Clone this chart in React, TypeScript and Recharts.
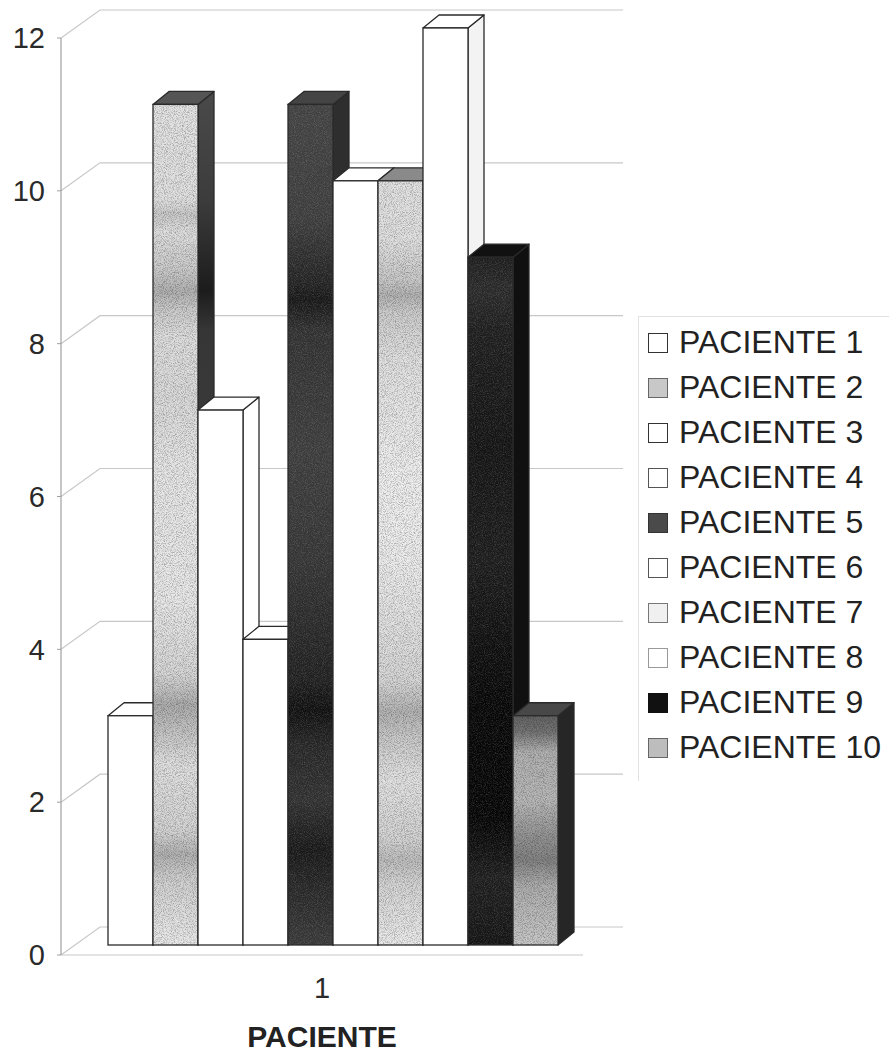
import React from 'react';
import { BarChart, Bar, XAxis, YAxis, CartesianGrid, Legend, Label } from 'recharts';

const categories = ['1'];
const seriesNames = [
  'PACIENTE 1', 'PACIENTE 2', 'PACIENTE 3', 'PACIENTE 4', 'PACIENTE 5',
  'PACIENTE 6', 'PACIENTE 7', 'PACIENTE 8', 'PACIENTE 9', 'PACIENTE 10',
];
const seriesValues = [3, 11, 7, 4, 11, 10, 10, 12, 9, 3];
const yTicks = [0, 2, 4, 6, 8, 10, 12];
const xTitle = 'PACIENTE';

const W = 889;
const H = 1054;
const FONT = '"Liberation Sans", Arial, Helvetica, sans-serif';

// depth offsets for the pseudo-3D look
const BAR_DX = 11;
const BAR_DY = -10;
const DEPTH_X = 16;
const DEPTH_Y = -13;
const WALL_X = 39;
const WALL_Y = -28;
const LEGEND_W = 251;

type Faces = { front: string; side: string; top: string; grain?: string };
const faces: Faces[] = [
  { front: '#ffffff', side: '#ffffff', top: '#ffffff' },
  { front: 'url(#gLight)', side: 'url(#gSideDark)', top: '#555555', grain: 'url(#grainDark)' },
  { front: '#ffffff', side: '#ffffff', top: '#ffffff' },
  { front: '#ffffff', side: '#ffffff', top: '#ffffff' },
  { front: 'url(#gDark)', side: '#2e2e2e', top: '#444444', grain: 'url(#grainLight)' },
  { front: '#ffffff', side: '#ffffff', top: '#ffffff' },
  { front: 'url(#gLight2)', side: '#555555', top: '#8a8a8a', grain: 'url(#grainDark)' },
  { front: '#ffffff', side: '#f3f3f3', top: '#ffffff' },
  { front: 'url(#gBlack)', side: '#101010', top: '#111111', grain: 'url(#grainLight)' },
  { front: 'url(#gMid)', side: '#262626', top: '#484848', grain: 'url(#grainDark)' },
];
const markerFills = ['#ffffff', '#c8c8c8', '#ffffff', '#ffffff', '#4a4a4a', '#ffffff', '#f0f0f0', '#ffffff', '#111111', '#bdbdbd'];
const markerStrokes = ['#333', '#666', '#333', '#555', '#333', '#555', '#777', '#999', '#111', '#666'];

const gradLight: [number, string][] = [
  [90, '#e4e4e4'], [200, '#e0e0e0'], [214, '#c8c8c8'], [232, '#dedede'], [270, '#cacaca'],
  [292, '#b0b0b0'], [308, '#c8c8c8'], [335, '#dedede'], [400, '#dadada'], [470, '#e6e6e6'],
  [600, '#e8e8e8'], [675, '#d6d6d6'], [705, '#acacac'], [735, '#c6c6c6'], [765, '#e0e0e0'],
  [830, '#d4d4d4'], [855, '#b2b2b2'], [878, '#cecece'], [945, '#eaeaea'],
];
const gradLight2: [number, string][] = [
  [160, '#e2e2e2'], [240, '#e0e0e0'], [280, '#c8c8c8'], [296, '#b2b2b2'], [312, '#cccccc'],
  [360, '#e0e0e0'], [470, '#eeeeee'], [560, '#ececec'], [680, '#d6d6d6'], [712, '#b2b2b2'],
  [740, '#cacaca'], [780, '#e2e2e2'], [840, '#d2d2d2'], [860, '#bdbdbd'], [885, '#d4d4d4'],
  [945, '#eaeaea'],
];
const gradSideDark: [number, string][] = [
  [90, '#4a4a4a'], [200, '#3c3c3c'], [290, '#1c1c1c'], [330, '#363636'], [450, '#3a3a3a'],
  [600, '#444444'], [700, '#2a2a2a'], [945, '#3a3a3a'],
];
const gradDark: [number, string][] = [
  [90, '#424242'], [220, '#3c3c3c'], [280, '#242424'], [300, '#181818'], [330, '#303030'],
  [450, '#3c3c3c'], [560, '#343434'], [680, '#202020'], [710, '#101010'], [745, '#262626'],
  [800, '#303030'], [850, '#181818'], [880, '#242424'], [945, '#383838'],
];
const gradBlack: [number, string][] = [
  [240, '#161616'], [290, '#2a2a2a'], [330, '#1e1e1e'], [450, '#141414'], [560, '#1c1c1c'],
  [700, '#080808'], [820, '#060606'], [880, '#1e1e1e'], [945, '#141414'],
];
const gradMid: [number, string][] = [
  [715, '#626262'], [732, '#747474'], [752, '#b0b0b0'], [800, '#b8b8b8'], [835, '#949494'],
  [860, '#828282'], [885, '#acacac'], [945, '#c8c8c8'],
];

const Grad = ({ id, stops }: { id: string; stops: [number, string][] }) => (
  <linearGradient id={id} gradientUnits="userSpaceOnUse" x1={0} y1={0} x2={0} y2={H}>
    {stops.map(([yy, c], i) => (
      <stop key={i} offset={yy / H} stopColor={c} />
    ))}
  </linearGradient>
);

const Grain = ({ id, color, strength }: { id: string; color: number; strength: number }) => (
  <filter id={id} x="0" y="0" width="1" height="1" colorInterpolationFilters="sRGB">
    <feTurbulence type="fractalNoise" baseFrequency="1.1" numOctaves={2} seed={5} result="n" />
    <feColorMatrix
      in="n"
      type="matrix"
      values={`0 0 0 0 ${color}  0 0 0 0 ${color}  0 0 0 0 ${color}  ${2.4 * strength} 0 0 0 ${-1.0 * strength}`}
      result="dots"
    />
    <feComposite in="dots" in2="SourceGraphic" operator="in" result="clip" />
    <feMerge>
      <feMergeNode in="SourceGraphic" />
      <feMergeNode in="clip" />
    </feMerge>
  </filter>
);

const makeShape = (f: Faces) => (props: any) => {
  const { x, y, width, height } = props;
  if (x == null || y == null || !width || height == null) return <g />;
  const fx = x + BAR_DX;
  const fy = y + BAR_DY;
  const stroke = '#2a2a2a';
  const sw = 1.3;
  const top = `M${fx},${fy} L${fx + DEPTH_X},${fy + DEPTH_Y} L${fx + width + DEPTH_X},${fy + DEPTH_Y} L${fx + width},${fy} Z`;
  const side = `M${fx + width},${fy} L${fx + width + DEPTH_X},${fy + DEPTH_Y} L${fx + width + DEPTH_X},${fy + height + DEPTH_Y} L${fx + width},${fy + height} Z`;
  return (
    <g>
      <path d={side} fill={f.side} stroke={stroke} strokeWidth={sw} strokeLinejoin="round" />
      <path d={top} fill={f.top} stroke={stroke} strokeWidth={sw} strokeLinejoin="round" />
      <rect x={fx} y={fy} width={width} height={height} fill={f.front} filter={f.grain} />
      <rect x={fx} y={fy} width={width} height={height} fill="none" stroke={stroke} strokeWidth={sw} />
    </g>
  );
};

const gridLine = (p: any) => {
  const { x1, y1, x2 } = p;
  const d = `M${x1},${y1} L${x1 + WALL_X},${y1 + WALL_Y} L${x2 + WALL_X + 1},${y1 + WALL_Y}`;
  return <path key={`g-${y1}`} d={d} fill="none" stroke="#c8c8c8" strokeWidth={1.2} />;
};

const XTick = (p: any) => {
  const { x, y, payload } = p;
  return (
    <text x={x} y={y} dy={21} textAnchor="middle" fontSize={29} fill="#2a2a2a" fontFamily={FONT}>
      {payload.value}
    </text>
  );
};

const LegendContent = () => (
  <div
    style={{
      borderTop: '1px solid #e2e2e2',
      borderLeft: '1px solid #e2e2e2',
      paddingLeft: 9,
      paddingTop: 3,
      boxSizing: 'border-box',
      width: LEGEND_W,
      height: 465,
      fontFamily: FONT,
    }}
  >
    {seriesNames.map((name, i) => (
      <div key={name} style={{ display: 'flex', alignItems: 'center', height: 45 }}>
        <span
          style={{
            display: 'inline-block',
            width: 18,
            height: 18,
            background: markerFills[i],
            border: `1.5px solid ${markerStrokes[i]}`,
            marginRight: 11,
            flex: 'none',
          }}
        />
        <span style={{ fontSize: 32, color: '#222', lineHeight: '45px', whiteSpace: 'nowrap' }}>{name}</span>
      </div>
    ))}
  </div>
);

const data = categories.map((c) => {
  const row: Record<string, string | number> = { category: c };
  seriesValues.forEach((v, i) => {
    row[`p${i + 1}`] = v;
  });
  return row;
});

export default function App() {
  return (
    <div style={{ position: 'absolute', left: 0, top: 0, width: W, height: H, background: '#fff' }}>
      <BarChart
        width={W}
        height={H}
        data={data}
        margin={{ top: 38, right: 306 - LEGEND_W, bottom: 0, left: 0 }}
        barGap={0}
        style={{ fontFamily: FONT }}
      >
        <defs>
          <Grad id="gLight" stops={gradLight} />
          <Grad id="gLight2" stops={gradLight2} />
          <Grad id="gSideDark" stops={gradSideDark} />
          <Grad id="gDark" stops={gradDark} />
          <Grad id="gBlack" stops={gradBlack} />
          <Grad id="gMid" stops={gradMid} />
          <Grain id="grainDark" color={0} strength={0.3} />
          <Grain id="grainLight" color={1} strength={0.16} />
        </defs>
        <CartesianGrid vertical={false} horizontal={gridLine} />
        <XAxis
          dataKey="category"
          height={99}
          axisLine={{ stroke: '#c8c8c8', strokeWidth: 1.2 }}
          tickLine={false}
          tickSize={6}
          tickMargin={16}
          tick={<XTick />}
        >
          <Label
            value={xTitle}
            position="insideBottom"
            offset={7}
            style={{ fontSize: 30, fontWeight: 'bold', fill: '#222', fontFamily: FONT }}
          />
        </XAxis>
        <YAxis
          width={61}
          domain={[0, 12]}
          ticks={yTicks}
          interval={0}
          axisLine={{ stroke: '#a0a0a0', strokeWidth: 1.2 }}
          tickLine={{ stroke: '#a0a0a0' }}
          tickSize={4}
          tickMargin={12}
          tick={{ fontSize: 29, fill: '#2a2a2a', fontFamily: FONT }}
        />
        <Legend
          layout="vertical"
          align="right"
          verticalAlign="middle"
          content={<LegendContent />}
          wrapperStyle={{ left: 638, top: 316, width: LEGEND_W, right: 'auto', bottom: 'auto' }}
        />
        {seriesNames.map((name, i) => (
          <Bar
            key={name}
            dataKey={`p${i + 1}`}
            name={name}
            fill={markerFills[i]}
            barSize={45}
            isAnimationActive={false}
            shape={makeShape(faces[i])}
          />
        ))}
      </BarChart>
    </div>
  );
}
